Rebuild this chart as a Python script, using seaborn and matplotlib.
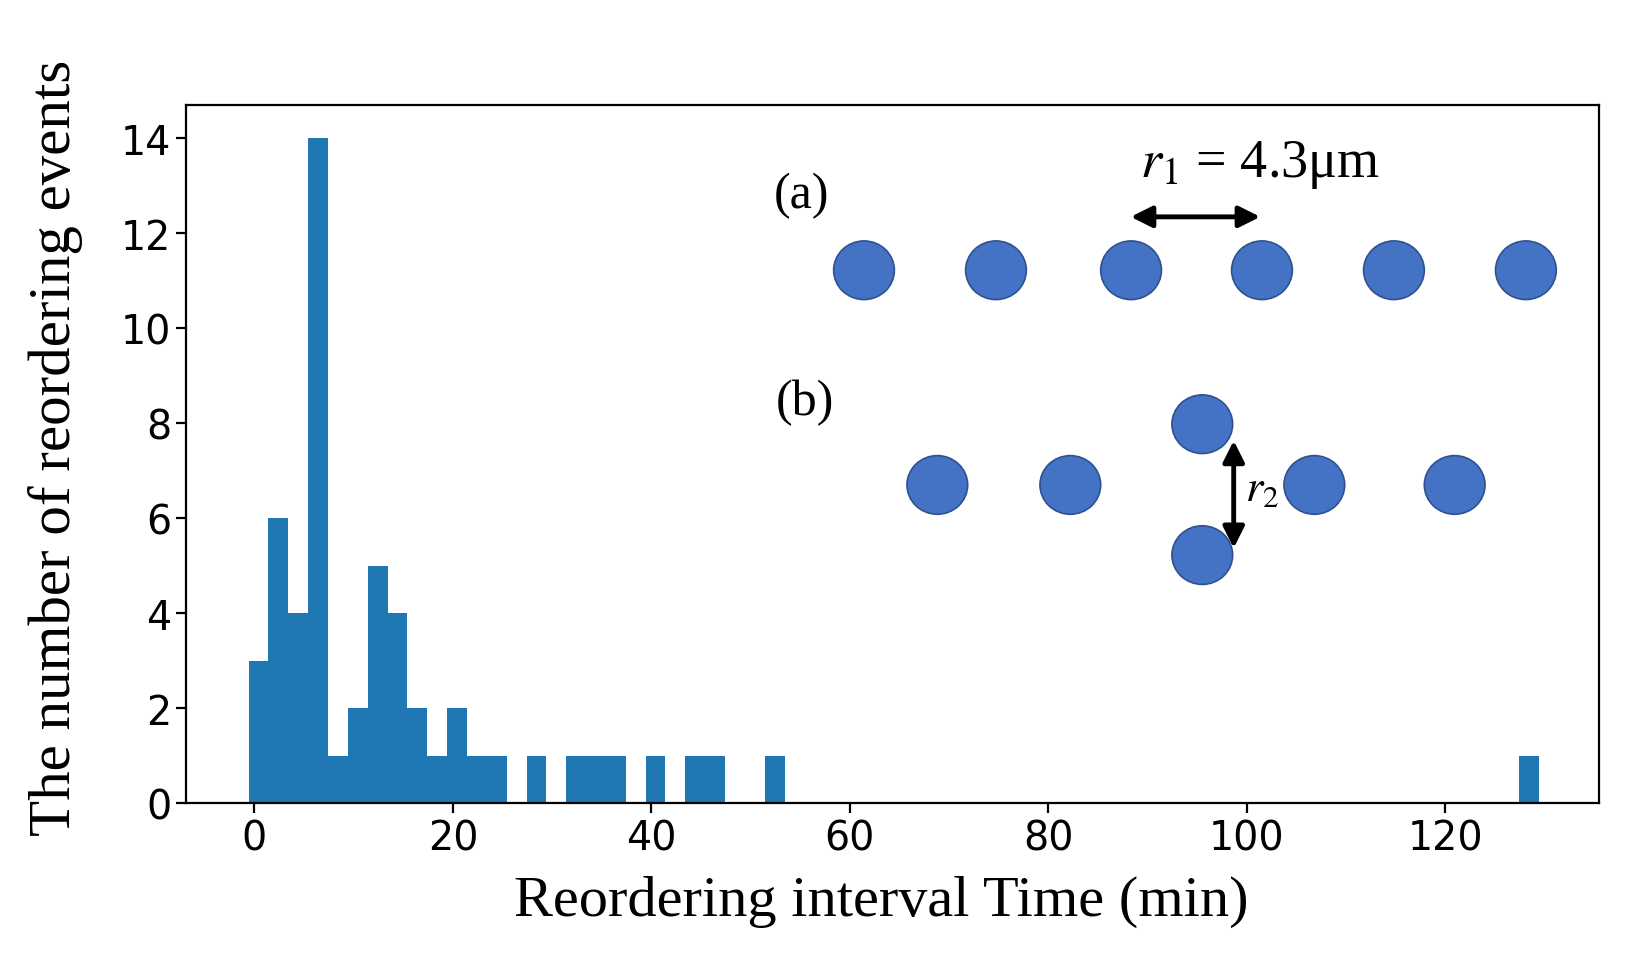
import numpy as np
import pandas as pd
import matplotlib
matplotlib.use("Agg")
import matplotlib.pyplot as plt
import seaborn as sns
from matplotlib.patches import Ellipse, FancyArrowPatch

# ---------------------------------------------------------------------------
# Histogram data (2-minute bins)
# ---------------------------------------------------------------------------
bin_edges = np.linspace(-0.58, 129.42, 66)
event_counts = ([3, 6, 4, 14, 1, 2, 5, 4, 2, 1, 2, 1, 1,
                 0, 1, 0, 1, 1, 1, 0, 1, 0, 1, 1, 0, 0, 1]
                + [0] * 37 + [1])
bin_centers = (bin_edges[:-1] + bin_edges[1:]) / 2

x_ticks = [0, 20, 40, 60, 80, 100, 120]
y_ticks = [0, 2, 4, 6, 8, 10, 12, 14]

# schematic particles (pixel positions measured on a 1565 px wide view)
row_a = [(825, 259), (951, 259), (1080, 259), (1205, 259), (1331, 259), (1457, 259)]
row_b = [(895, 464), (1022, 464), (1148, 406), (1148, 531), (1255, 464), (1389, 464)]

W, H = 1639, 970
S = 1639 / 1565  # measured view -> real pixels

sns.set_style("ticks")
plt.rcParams["font.family"] = ["DejaVu Sans"]
plt.rcParams["mathtext.fontset"] = "stix"
plt.rcParams["text.color"] = "black"

df = pd.DataFrame({"interval": bin_centers, "events": event_counts})


def fx(px):
    return px * S / W


def fy(py):
    return 1 - py * S / H


fig = plt.figure(figsize=(W / 100, H / 100), dpi=100)
ax = fig.add_axes([fx(178), fy(768), fx(1527) - fx(178), fy(101) - fy(768)])

sns.histplot(data=df, x="interval", weights="events", bins=list(bin_edges), ax=ax,
             color="#1f77b4", alpha=1, linewidth=0, edgecolor="none")

ax.set_xlim(-6.85, 135.5)
ax.set_ylim(0, 14.7)
ax.set_xticks(x_ticks)
ax.set_yticks(y_ticks)
ax.tick_params(labelsize=28.5, length=7.5, width=1.6, color="black", labelcolor="black")
for s in ax.spines.values():
    s.set_linewidth(1.6)
    s.set_color("black")

serif = ["Liberation Serif", "DejaVu Serif"]
ax.set_xlabel("Reordering interval Time (min)", family=serif, fontsize=42, color="black")
ax.set_ylabel("The number of reordering events", family=serif, fontsize=42.5, color="black")
ax.xaxis.set_label_coords(0.492, -0.140)
ax.yaxis.set_label_coords(-0.093, 0.51)
ax.xaxis.label.set_va("center")
ax.yaxis.label.set_va("center")

# schematic circles
for cx, cy in row_a + row_b:
    fig.patches.append(Ellipse((fx(cx), fy(cy)), 58 * S / W, 56 * S / H,
                               transform=fig.transFigure,
                               facecolor="#4472C4", edgecolor="#2F528F", linewidth=1.2))

# arrows
fig.patches.append(FancyArrowPatch((fx(1077), fy(208)), (fx(1206), fy(208)),
                                   transform=fig.transFigure, arrowstyle="<|-|>",
                                   mutation_scale=32, linewidth=3.5, color="black"))
fig.patches.append(FancyArrowPatch((fx(1178), fy(419)), (fx(1178), fy(527)),
                                   transform=fig.transFigure, arrowstyle="<|-|>",
                                   mutation_scale=32, linewidth=3.5, color="black"))

fig.text(fx(765), fy(187), "(a)", family=serif, fontsize=36, ha="center", va="center",
         color="black")
fig.text(fx(769), fy(385), "(b)", family=serif, fontsize=36, ha="center", va="center",
         color="black")
fig.text(fx(1203), fy(158), r"$r_1$ = 4.3μm", family=serif, fontsize=39,
         ha="center", va="center", color="black")
fig.text(fx(1205), fy(466), r"$r_2$", fontsize=32, ha="center", va="center", color="black")

fig.savefig("out.png", dpi=100)
